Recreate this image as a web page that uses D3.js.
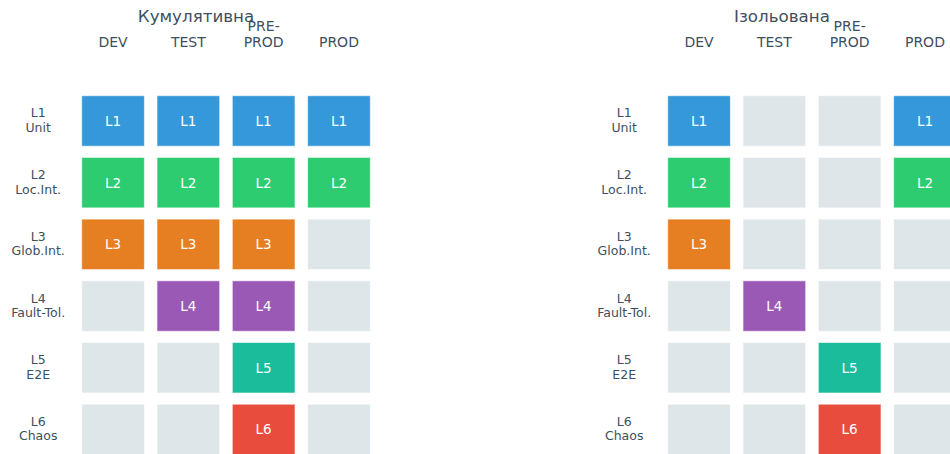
<!DOCTYPE html>
<html>
<head>
<meta charset="utf-8">
<script src="https://cdn.jsdelivr.net/npm/d3@7"></script>
<style>
  html, body { margin: 0; padding: 0; background: #ffffff; overflow: hidden; }
  svg { display: block; font-family: "DejaVu Sans", sans-serif; }
</style>
</head>
<body>
<svg id="chart" width="950" height="454"></svg>
<script>
// ---- data ----
const levels = ["L1", "L2", "L3", "L4", "L5", "L6"];
const levelNames = ["Unit", "Loc.Int.", "Glob.Int.", "Fault-Tol.", "E2E", "Chaos"];
const envs = ["DEV", "TEST", "PRE-PROD", "PROD"];
const envLabels = [["DEV"], ["TEST"], ["PRE-", "PROD"], ["PROD"]];
const levelColors = ["#3498db", "#2ecc71", "#e67e22", "#9b59b6", "#1abc9c", "#e74c3c"];
const panelTitles = ["Кумулятивна", "Ізольована"];
// 1 = level runs in environment, 0 = not
const cumulative = [
  [1, 1, 1, 1],
  [1, 1, 1, 1],
  [1, 1, 1, 0],
  [0, 1, 1, 0],
  [0, 0, 1, 0],
  [0, 0, 1, 0]
];
const isolated = [
  [1, 0, 0, 1],
  [1, 0, 0, 1],
  [1, 0, 0, 0],
  [0, 1, 0, 0],
  [0, 0, 1, 0],
  [0, 0, 1, 0]
];
const matrices = [cumulative, isolated];

// ---- layout ----
const svg = d3.select("#chart");
const panelX = [81.7, 667.7];
const gridW = 4 * 75.3 - 12.6;
const gridTop = 95.7;
const gridH = 6 * 61.7 - 11.2;
const textColor = "#3d4f60";
const emptyColor = "#dfe6e9";

panelX.forEach((x0, p) => {
  const x = d3.scaleBand().domain(envs).range([x0, x0 + gridW]).paddingInner(12.6 / 75.3).paddingOuter(0);
  const y = d3.scaleBand().domain(levels).range([gridTop, gridTop + gridH]).paddingInner(11.2 / 61.7).paddingOuter(0);
  const g = svg.append("g");

  const cells = [];
  levels.forEach((lv, i) => envs.forEach((env, j) => {
    cells.push({ lv, env, i, on: matrices[p][i][j] === 1 });
  }));

  g.selectAll("rect.cell").data(cells).join("rect")
    .attr("class", "cell")
    .attr("x", d => x(d.env))
    .attr("y", d => y(d.lv))
    .attr("width", x.bandwidth())
    .attr("height", y.bandwidth())
    .attr("fill", d => d.on ? levelColors[d.i] : emptyColor)
    .attr("stroke", "#ffffff")
    .attr("stroke-opacity", 0.6)
    .attr("stroke-width", 1);

  g.selectAll("text.cellLabel").data(cells.filter(d => d.on)).join("text")
    .attr("class", "cellLabel")
    .attr("x", d => x(d.env) + x.bandwidth() / 2)
    .attr("y", d => y(d.lv) + y.bandwidth() / 2)
    .attr("text-anchor", "middle")
    .attr("dominant-baseline", "central")
    .attr("fill", "#ffffff")
    .attr("font-size", 13.5)
    .text(d => d.lv);

  // column labels (bottom-aligned multi-line)
  envs.forEach((env, j) => {
    const lines = envLabels[j];
    const t = g.append("text")
      .attr("x", x(env) + x.bandwidth() / 2)
      .attr("text-anchor", "middle")
      .attr("fill", textColor)
      .attr("font-size", 14);
    lines.forEach((ln, k) => {
      t.append("tspan")
        .attr("x", x(env) + x.bandwidth() / 2)
        .attr("y", 46.7 - (lines.length - 1 - k) * 16)
        .text(ln);
    });
  });

  // row labels
  levels.forEach((lv, i) => {
    const cy = y(lv) + y.bandwidth() / 2;
    const t = g.append("text")
      .attr("text-anchor", "middle")
      .attr("fill", textColor)
      .attr("font-size", 12.5);
    [lv, levelNames[i]].forEach((ln, k) => {
      t.append("tspan")
        .attr("x", x0 - 43.5)
        .attr("y", cy - 3.5 + k * 14.5)
        .text(ln);
    });
  });

  // title
  g.append("text")
    .attr("x", x0 + 114.3)
    .attr("y", 22)
    .attr("text-anchor", "middle")
    .attr("fill", textColor)
    .attr("font-size", 16.7)
    .text(panelTitles[p]);
});
</script>
</body>
</html>
